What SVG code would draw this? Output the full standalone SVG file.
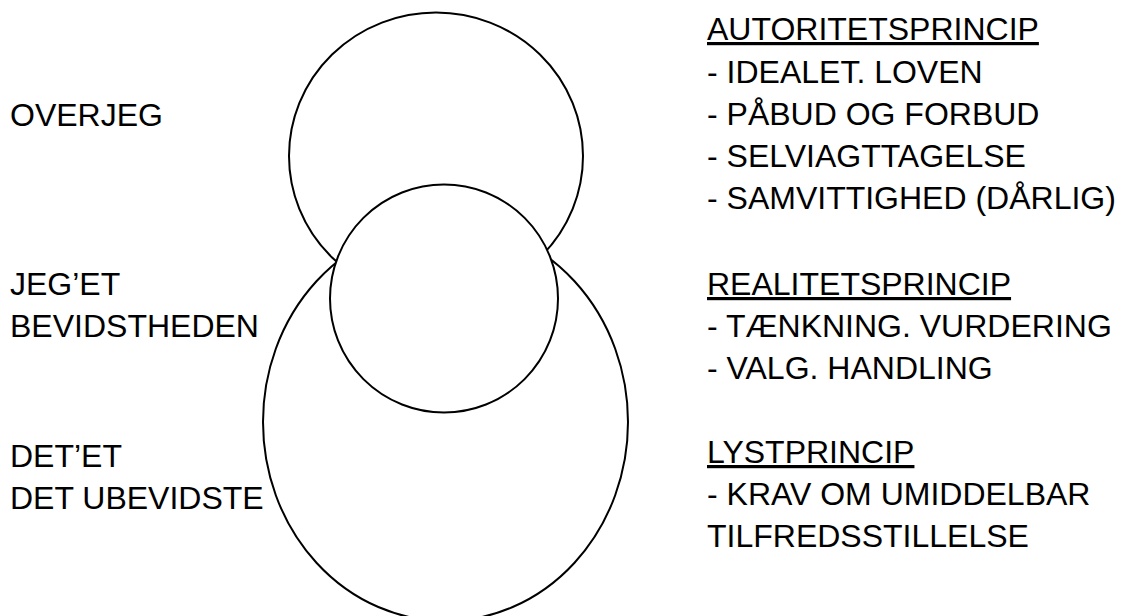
<svg xmlns="http://www.w3.org/2000/svg" width="1121" height="616" viewBox="0 0 1121 616">
<style>
.shape{fill:#fff;stroke:#000;stroke-width:2}
.t{font-family:"Liberation Sans",Arial,sans-serif;font-size:32px;fill:#000}
.u{text-decoration:underline}
</style>
<rect width="1121" height="616" fill="#fff"/>
<g id="shapes">
  <ellipse id="det-et-shape" class="shape" cx="445.5" cy="422" rx="182.5" ry="199"/>
  <ellipse id="overjeg-shape" class="shape" cx="436" cy="156" rx="147" ry="143.5"/>
  <circle id="jeg-et-shape" class="shape" cx="444" cy="298.5" r="114"/>
</g>
<g id="connectors"></g>
<g id="labels-left" class="t">
  <text id="overjeg" x="10" y="126">OVERJEG</text>
  <g id="jeg-et">
    <text x="10" y="295">JEG’ET</text>
    <text x="10" y="337">BEVIDSTHEDEN</text>
  </g>
  <g id="det-et">
    <text x="10" y="467">DET’ET</text>
    <text x="10" y="509">DET UBEVIDSTE</text>
  </g>
</g>
<g id="labels-right" class="t">
  <g id="autoritetsprincip">
    <text class="u" x="707" y="40">AUTORITETSPRINCIP</text>
    <text x="707" y="83">- IDEALET. LOVEN</text>
    <text x="707" y="125">- PÅBUD OG FORBUD</text>
    <text x="707" y="167">- SELVIAGTTAGELSE</text>
    <text x="707" y="209">- SAMVITTIGHED (DÅRLIG)</text>
  </g>
  <g id="realitetsprincip">
    <text class="u" x="707" y="295">REALITETSPRINCIP</text>
    <text x="707" y="337">- TÆNKNING. VURDERING</text>
    <text x="707" y="379">- VALG. HANDLING</text>
  </g>
  <g id="lystprincip">
    <text class="u" x="707" y="463">LYSTPRINCIP</text>
    <text x="707" y="505">- KRAV OM UMIDDELBAR</text>
    <text x="707" y="547">TILFREDSSTILLELSE</text>
  </g>
</g>
</svg>
